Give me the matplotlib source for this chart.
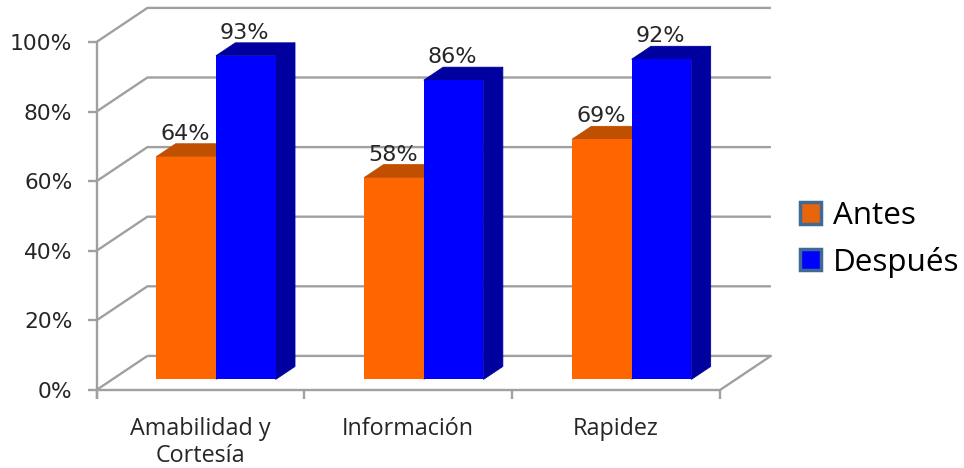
import matplotlib
matplotlib.use("Agg")
import matplotlib.pyplot as plt
from matplotlib.patches import Polygon, Patch

categories = ["Amabilidad y\nCortesía", "Información", "Rapidez"]
antes = [64, 58, 69]
despues = [93, 86, 92]
y_ticks = [0, 20, 40, 60, 80, 100]

# Oblique projection of the chart box, in data units
FLOOR_DX, FLOOR_DY = 0.245, 9.8
BAR_START, BAR_END = 0.31, 0.69
BAR_W = 0.287
GRID = "#a0a0a0"

fig = plt.figure(figsize=(9.64, 4.68), dpi=100)
ax = fig.add_axes([96.5 / 964, 1 - 390 / 468, 623.5 / 964, 348 / 468])
ax.set_xlim(0, 3)
ax.set_ylim(0, 100)
ax.axis("off")


def line(xs, ys, **kw):
    ax.plot(xs, ys, color=GRID, lw=1.7, clip_on=False, solid_capstyle="butt", **kw)


# Back wall gridlines, floor edges and front axes
for v in y_ticks:
    line([0, FLOOR_DX, 3 + FLOOR_DX] if v else [0, FLOOR_DX],
         [v, v + FLOOR_DY, v + FLOOR_DY] if v else [0, FLOOR_DY])
    line([-0.043, 0], [v, v])
line([FLOOR_DX, 3 + FLOOR_DX, 3], [FLOOR_DY, FLOOR_DY, 0])
line([0, 0], [-2.5, 100])
line([0, 3], [0, 0])
for i in range(4):
    line([i, i], [0, -2.5])

for v in y_ticks:
    ax.text(-0.116, v - 0.6, f"{v}%", ha="right", va="center", fontsize=15.7,
            color="#262626", clip_on=False)


def bar3d(x, value, front, top, side):
    x0 = x + FLOOR_DX * BAR_START
    y0 = FLOOR_DY * BAR_START
    x1 = x0 + BAR_W
    y1 = y0 + value
    dx = FLOOR_DX * (BAR_END - BAR_START)
    dy = FLOOR_DY * (BAR_END - BAR_START)
    ax.add_patch(Polygon([(x1, y0), (x1 + dx, y0 + dy), (x1 + dx, y1 + dy), (x1, y1)],
                         fc=side, ec=side, lw=0.6, clip_on=False, zorder=3))
    ax.add_patch(Polygon([(x0, y1), (x0 + dx, y1 + dy), (x1 + dx, y1 + dy), (x1, y1)],
                         fc=top, ec=top, lw=0.6, clip_on=False, zorder=3))
    ax.add_patch(Polygon([(x0, y0), (x1, y0), (x1, y1), (x0, y1)],
                         fc=front, ec="none", clip_on=False, zorder=3))
    ax.text(x0 + BAR_W / 2 - 0.005, y1 + dy, f"{value}%", ha="center", va="bottom",
            fontsize=16, color="#262626", clip_on=False, zorder=4)


start = (1 - 2 * BAR_W) / 2
for i, (a, d) in enumerate(zip(antes, despues)):
    # Draw the right-hand column last so it covers the neighbour's side face
    bar3d(i + start - 0.001, a, "#ff6600", "#c05000", "#c05000")
    bar3d(i + start - 0.001 + BAR_W, d, "#0000ff", "#00009f", "#00009f")

for i, name in enumerate(categories):
    ax.text(i + 0.5, -7.7, name, ha="center", va="top", fontsize=16.8,
            family="Open Sans", color="#262626", linespacing=1.2, clip_on=False)

handles = [Patch(fc="#e8650a", ec="#3f6a98", lw=2.5, label="Antes"),
           Patch(fc="#0000ff", ec="#3f6a98", lw=2.5, label="Después")]
fig.legend(handles=handles, loc="upper left", bbox_to_anchor=(800 / 964, 1 - 201 / 468),
           frameon=False, handlelength=0.68, handleheight=0.68, handletextpad=0.36,
           labelspacing=0.5, borderpad=0, borderaxespad=0,
           prop={"family": "Open Sans", "size": 22.6})

fig.savefig("out.png", dpi=100, facecolor="white")
